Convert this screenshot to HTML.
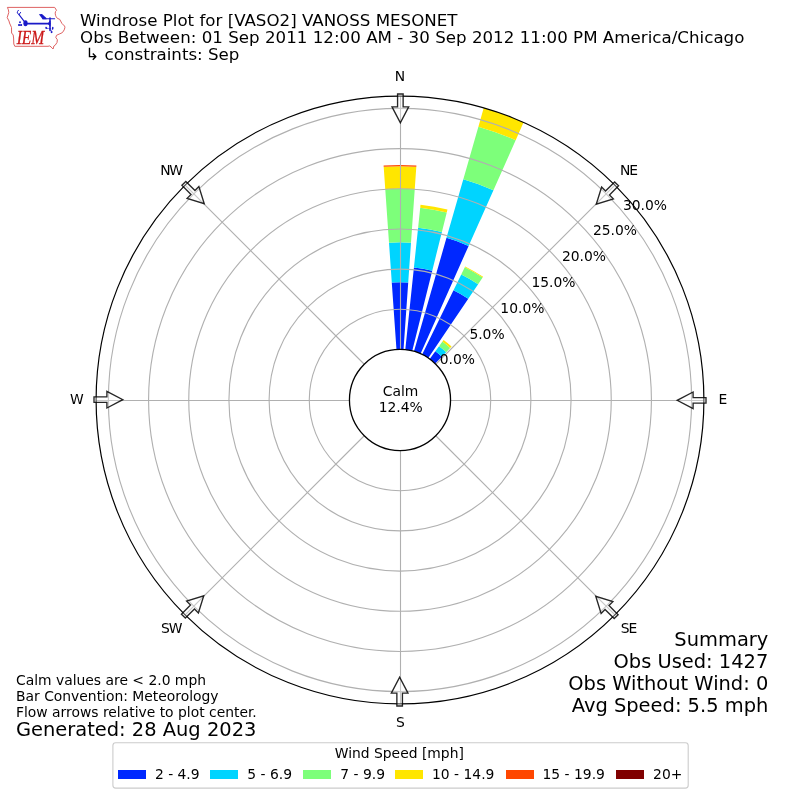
<!DOCTYPE html>
<html lang="en"><head><meta charset="utf-8"><title>Windrose Plot for [VASO2] VANOSS MESONET</title>
<style>html,body{margin:0;padding:0;background:#fff}body{width:800px;height:800px;overflow:hidden}svg{display:block}text{font-family:"DejaVu Sans","Liberation Sans",sans-serif;fill:#000}.t10{font-size:13.89px}.t12{font-size:16.67px}.t14{font-size:19.44px}</style></head><body>
<svg width="800" height="800" viewBox="0 0 800 800">
<rect width="800" height="800" fill="#fff"/>
<g id="bars">
<path d="M396.47,349.57L391.78,282.48A117.80,117.80 0 0 1 408.22,282.48L403.53,349.57A50.55,50.55 0 0 0 396.47,349.57Z" fill="#0028ff"/>
<path d="M391.78,282.48L389.00,242.65A157.74,157.74 0 0 1 411.00,242.65L408.22,282.48A117.80,117.80 0 0 0 391.78,282.48Z" fill="#00d4ff"/>
<path d="M389.00,242.65L385.26,189.26A211.25,211.25 0 0 1 414.74,189.26L411.00,242.65A157.74,157.74 0 0 0 389.00,242.65Z" fill="#7dff7a"/>
<path d="M385.26,189.26L383.69,166.82A233.75,233.75 0 0 1 416.31,166.82L414.74,189.26A211.25,211.25 0 0 0 385.26,189.26Z" fill="#ffe600"/>
<path d="M383.69,166.82L383.61,165.62A234.95,234.95 0 0 1 416.39,165.62L416.31,166.82A233.75,233.75 0 0 0 383.69,166.82Z" fill="#ff4700"/>
<path d="M405.28,349.73L413.93,267.42A133.31,133.31 0 0 1 432.25,270.65L412.23,350.95A50.55,50.55 0 0 0 405.28,349.73Z" fill="#0028ff"/>
<path d="M413.93,267.42L418.11,227.70A173.24,173.24 0 0 1 441.91,231.90L432.25,270.65A133.31,133.31 0 0 0 413.93,267.42Z" fill="#00d4ff"/>
<path d="M418.11,227.70L420.20,207.81A193.25,193.25 0 0 1 446.75,212.49L441.91,231.90A173.24,173.24 0 0 0 418.11,227.70Z" fill="#7dff7a"/>
<path d="M420.20,207.81L420.51,204.85A196.22,196.22 0 0 1 447.47,209.60L446.75,212.49A193.25,193.25 0 0 0 420.20,207.81Z" fill="#ffe600"/>
<path d="M413.93,351.41L446.49,237.87A168.66,168.66 0 0 1 468.60,245.92L420.56,353.82A50.55,50.55 0 0 0 413.93,351.41Z" fill="#0028ff"/>
<path d="M446.49,237.87L463.32,179.17A229.73,229.73 0 0 1 493.44,190.13L468.60,245.92A168.66,168.66 0 0 0 446.49,237.87Z" fill="#00d4ff"/>
<path d="M463.32,179.17L478.38,126.65A284.37,284.37 0 0 1 515.66,140.22L493.44,190.13A229.73,229.73 0 0 0 463.32,179.17Z" fill="#7dff7a"/>
<path d="M478.38,126.65L483.77,107.87A303.90,303.90 0 0 1 523.61,122.37L515.66,140.22A284.37,284.37 0 0 0 478.38,126.65Z" fill="#ffe600"/>
<path d="M422.16,354.57L453.51,290.29A122.06,122.06 0 0 1 468.26,298.81L428.27,358.09A50.55,50.55 0 0 0 422.16,354.57Z" fill="#0028ff"/>
<path d="M453.51,290.29L461.26,274.40A139.74,139.74 0 0 1 478.14,284.15L468.26,298.81A122.06,122.06 0 0 0 453.51,290.29Z" fill="#00d4ff"/>
<path d="M461.26,274.40L464.78,267.18A147.77,147.77 0 0 1 482.63,277.49L478.14,284.15A139.74,139.74 0 0 0 461.26,274.40Z" fill="#7dff7a"/>
<path d="M464.78,267.18L465.13,266.46A148.58,148.58 0 0 1 483.08,276.82L482.63,277.49A147.77,147.77 0 0 0 464.78,267.18Z" fill="#ffe600"/>
<path d="M429.71,359.10L435.33,351.37A60.11,60.11 0 0 1 441.76,356.76L435.11,363.64A50.55,50.55 0 0 0 429.71,359.10Z" fill="#0028ff"/>
<path d="M435.33,351.37L439.06,346.23A66.46,66.46 0 0 1 446.17,352.19L441.76,356.76A60.11,60.11 0 0 0 435.33,351.37Z" fill="#00d4ff"/>
<path d="M439.06,346.23L442.42,341.62A72.16,72.16 0 0 1 450.13,348.09L446.17,352.19A66.46,66.46 0 0 0 439.06,346.23Z" fill="#7dff7a"/>
<path d="M442.42,341.62L443.64,339.93A74.25,74.25 0 0 1 451.58,346.59L450.13,348.09A72.16,72.16 0 0 0 442.42,341.62Z" fill="#ffe600"/>
</g>
<g id="grid" fill="none" stroke="#b0b0b0" stroke-width="1.11">
<circle cx="400.0" cy="400.0" r="90.72"/>
<circle cx="400.0" cy="400.0" r="130.90"/>
<circle cx="400.0" cy="400.0" r="171.07"/>
<circle cx="400.0" cy="400.0" r="211.25"/>
<circle cx="400.0" cy="400.0" r="251.43"/>
<circle cx="400.0" cy="400.0" r="291.60"/>
<line x1="400.50" y1="349.45" x2="400.50" y2="96.10"/>
<line x1="435.74" y1="364.26" x2="614.89" y2="185.11"/>
<line x1="450.55" y1="400.50" x2="703.90" y2="400.50"/>
<line x1="435.74" y1="435.74" x2="614.89" y2="614.89"/>
<line x1="400.50" y1="450.55" x2="400.50" y2="703.90"/>
<line x1="364.26" y1="435.74" x2="185.11" y2="614.89"/>
<line x1="349.45" y1="400.50" x2="96.10" y2="400.50"/>
<line x1="364.26" y1="364.26" x2="185.11" y2="185.11"/>
</g>
<circle cx="400.0" cy="400.0" r="303.9" fill="none" stroke="#000" stroke-width="1.2"/>
<circle cx="400.0" cy="400.0" r="50.55" fill="#fff" stroke="#000" stroke-width="1.3"/>
<g id="arrows" fill="#fff" fill-opacity="0.3" stroke="#000" stroke-opacity="0.85" stroke-width="1.35" stroke-linejoin="miter">
<path d="M-2.78,-306.0L2.78,-306.0L2.78,-293.1L8.33,-293.1L0,-277.2L-8.33,-293.1L-2.78,-293.1Z" transform="translate(400.0,400.0) rotate(0) translate(0.35,0)"/>
<path d="M-2.78,-306.0L2.78,-306.0L2.78,-293.1L8.33,-293.1L0,-277.2L-8.33,-293.1L-2.78,-293.1Z" transform="translate(400.0,400.0) rotate(45) translate(0.35,0)"/>
<path d="M-2.78,-306.0L2.78,-306.0L2.78,-293.1L8.33,-293.1L0,-277.2L-8.33,-293.1L-2.78,-293.1Z" transform="translate(400.0,400.0) rotate(90) translate(0.35,0)"/>
<path d="M-2.78,-306.0L2.78,-306.0L2.78,-293.1L8.33,-293.1L0,-277.2L-8.33,-293.1L-2.78,-293.1Z" transform="translate(400.0,400.0) rotate(135) translate(0.35,0)"/>
<path d="M-2.78,-306.0L2.78,-306.0L2.78,-293.1L8.33,-293.1L0,-277.2L-8.33,-293.1L-2.78,-293.1Z" transform="translate(400.0,400.0) rotate(180) translate(0.35,0)"/>
<path d="M-2.78,-306.0L2.78,-306.0L2.78,-293.1L8.33,-293.1L0,-277.2L-8.33,-293.1L-2.78,-293.1Z" transform="translate(400.0,400.0) rotate(225) translate(0.35,0)"/>
<path d="M-2.78,-306.0L2.78,-306.0L2.78,-293.1L8.33,-293.1L0,-277.2L-8.33,-293.1L-2.78,-293.1Z" transform="translate(400.0,400.0) rotate(270) translate(0.35,0)"/>
<path d="M-2.78,-306.0L2.78,-306.0L2.78,-293.1L8.33,-293.1L0,-277.2L-8.33,-293.1L-2.78,-293.1Z" transform="translate(400.0,400.0) rotate(315) translate(0.35,0)"/>
</g>
<g class="t10">
<text x="400" y="81.06" text-anchor="middle">N</text>
<text x="620.01 629.20" y="175.36">NE</text>
<text x="723" y="404.06" text-anchor="middle">E</text>
<text x="620.80 628.42" y="633.16">SE</text>
<text x="400.5" y="726.56" text-anchor="middle">S</text>
<text x="161.12 168.75" y="633.06">SW</text>
<text x="76.8" y="404.16" text-anchor="middle">W</text>
<text x="160.14 169.33" y="174.56">NW</text>
</g>
<g class="t10" text-anchor="middle">
<text x="457.4" y="364.06">0.0%</text>
<text x="487" y="338.56">5.0%</text>
<text x="522.4" y="312.56">10.0%</text>
<text x="553.5" y="287.06">15.0%</text>
<text x="584" y="261.06">20.0%</text>
<text x="615" y="234.96">25.0%</text>
<text x="645" y="210.06">30.0%</text>
</g>
<g class="t10" text-anchor="middle"><text x="400.5" y="396.2">Calm</text><text x="400.7" y="412">12.4%</text></g>
<g class="t12"><text x="80" y="25.8">Windrose Plot for [VASO2] VANOSS MESONET</text><text x="80" y="42.9" textLength="664.4" lengthAdjust="spacing">Obs Between: 01 Sep 2011 12:00 AM - 30 Sep 2012 11:00 PM America/Chicago</text><text x="80" y="60" xml:space="preserve"> ↳ constraints: Sep</text></g>
<g class="t14" text-anchor="end"><text x="768.3" y="646.1">Summary</text><text x="768.3" y="668.3">Obs Used: 1427</text><text x="768.3" y="690.1">Obs Without Wind: 0</text><text x="768.3" y="711.9">Avg Speed: 5.5 mph</text></g>
<g class="t10"><text x="16" y="685">Calm values are &lt; 2.0 mph</text><text x="16" y="700.6">Bar Convention: Meteorology</text><text x="16" y="717.1">Flow arrows relative to plot center.</text></g>
<text class="t14" x="16" y="736">Generated: 28 Aug 2023</text>
<rect x="112.9" y="742.7" width="575.3" height="45.4" rx="2.8" ry="2.8" fill="#fff" fill-opacity="0.8" stroke="#ccc" stroke-width="1.11"/>
<text class="t10" x="399.3" y="758" text-anchor="middle">Wind Speed [mph]</text>
<rect x="118" y="770" width="28" height="9" fill="#0028ff"/>
<text class="t10" x="154.9" y="779.3">2 - 4.9</text>
<rect x="210" y="770" width="28" height="9" fill="#00d4ff"/>
<text class="t10" x="247.3" y="779.3">5 - 6.9</text>
<rect x="303" y="770" width="28" height="9" fill="#7dff7a"/>
<text class="t10" x="340.3" y="779.3">7 - 9.9</text>
<rect x="395" y="770" width="28" height="9" fill="#ffe600"/>
<text class="t10" x="432.0" y="779.3">10 - 14.9</text>
<rect x="506" y="770" width="28" height="9" fill="#ff4700"/>
<text class="t10" x="542.5" y="779.3">15 - 19.9</text>
<rect x="616" y="770" width="28" height="9" fill="#800000"/>
<text class="t10" x="653.1" y="779.3">20+</text>
<g id="logo">
<path d="M7.4,7.4 L54.7,7.4 L56.5,10.3 L55.5,11.6 L55.2,13.2 L55.5,15.2 L56.2,16.8 L57.4,18.4 L59.7,19.3 L61.9,23.4 L64.6,26.1 L64.9,27.6 L64.2,29.9 L62.4,32.6 L59.2,34.1 L56.5,35.3 L55.8,37.5 L57.4,39.8 L57,42.5 L55.2,45.2 L53.8,46.1 L53.1,49 L52,47.9 L49.8,45.9 L48,46.3 L14.8,46.3 L13.8,44 L13.6,38 L13.2,35 L11.6,33 L11.5,27.5 L9.5,23 L9,21 L7.2,17.6 L8.8,12.4 L8.4,9.8 Z" fill="none" stroke="#dc5a5a" stroke-width="0.95" stroke-linejoin="round"/>
<g stroke="#1a1ac8" fill="none" stroke-linecap="round" stroke-linejoin="round">
<path d="M25.4,23.6 L49.8,23.6" stroke-width="1.7"/>
<path d="M24.6,21.8 L19,14.6" stroke-width="1.15"/>
<path d="M19,14.6 L17.3,12.9 L17.5,11.6 L18.4,10.3 M19,14.6 L20.6,12.4" stroke-width="1"/>
<path d="M50,18 L50,30.4" stroke-width="1.5"/>
<path d="M43,18.7 L54.6,18.7" stroke-width="1.1"/>
</g>
<g fill="#1a1ac8">
<ellipse cx="25.5" cy="23.2" rx="2.15" ry="3.05"/>
<path d="M38.9,14.3 L42,14.1 L46.4,17.9 L46.6,19.2 L42.6,19.2 Z"/>
<path d="M48.2,22.8 Q49.4,22.4 49.4,20.8 L50.6,20.8 L50.6,26.4 L49.4,26.4 Q49.4,24.8 48.2,24.4 Z"/>
<circle cx="20" cy="22.2" r="0.95"/><circle cx="19" cy="25.1" r="1"/><circle cx="21.2" cy="25.1" r="1"/><rect x="18.8" y="24.6" width="2.6" height="1"/>
<ellipse cx="46.2" cy="27.9" rx="0.85" ry="1.2" transform="rotate(-20 46.2 27.9)"/><circle cx="47.9" cy="28.4" r="0.6"/>
<ellipse cx="52.7" cy="28.3" rx="0.8" ry="1.5" transform="rotate(10 52.7 28.3)"/><ellipse cx="50" cy="28.6" rx="1" ry="1.2" fill-opacity="0.7"/><ellipse cx="51.6" cy="32.1" rx="0.95" ry="1.15"/><circle cx="51" cy="30.3" r="0.6"/>
</g>
<text x="16.7" y="43.7" style="font-family:'Liberation Serif','DejaVu Serif',serif;font-style:italic;font-size:18px;fill:#cc1a1a;stroke:#cc1a1a;stroke-width:0.3" textLength="27.6" lengthAdjust="spacingAndGlyphs">IEM</text>
</g>
</svg></body></html>
